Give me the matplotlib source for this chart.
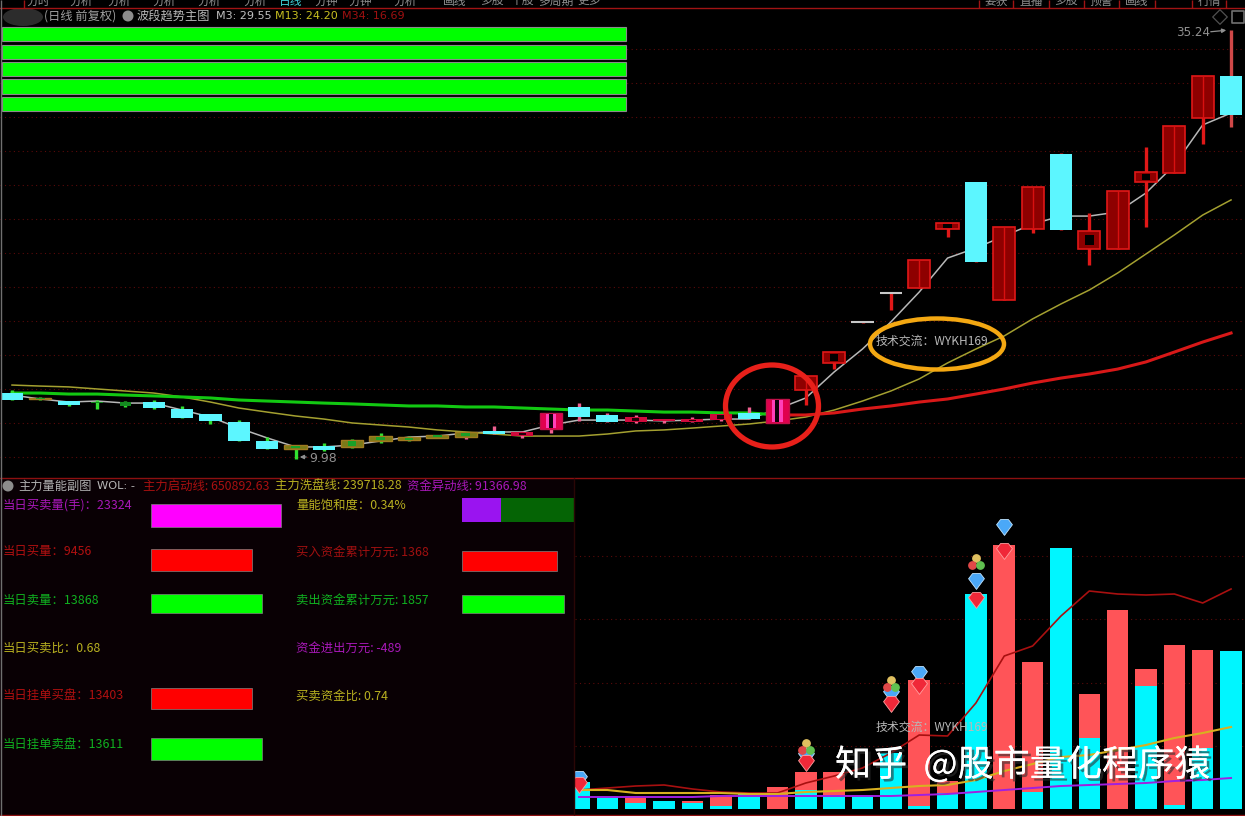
import numpy as np
import matplotlib
matplotlib.use("Agg")
import matplotlib.pyplot as plt
from matplotlib.patches import Ellipse, Circle, Rectangle
import matplotlib.patheffects as pe

plt.rcParams['font.family'] = ['Noto Sans CJK SC', 'DejaVu Sans']

## Candles: body top, body bottom, high, low
body_top = [13.88,13.59,13.41,13.35,13.35,13.35,12.94,12.65,12.18,11.06,10.82,10.76,11.12,11.35,11.29,11.41,
            11.59,11.65,11.59,12.71,13.06,12.59,12.47,12.35,12.35,12.65,12.71,13.53,14.88,16.29,18.06,19.76,
            21.71,23.88,26.29,23.65,26.00,27.94,23.41,25.76,26.88,29.59,32.53,32.53]
body_bot = [13.47,13.53,13.18,13.29,13.12,13.00,12.41,12.24,11.06,10.59,10.59,10.53,10.71,11.06,11.12,11.24,
            11.29,11.47,11.35,11.76,12.47,12.18,12.18,12.24,12.18,12.29,12.35,12.12,14.06,15.65,18.00,19.71,
            20.06,23.53,21.59,19.35,23.53,23.47,22.35,22.35,26.29,26.82,30.06,30.24]
high = [14.06,13.65,13.41,13.47,13.41,13.47,13.12,12.65,12.29,11.29,10.82,10.94,11.18,11.53,11.35,11.41,
        11.59,11.94,11.65,12.71,13.29,12.71,12.59,12.35,12.47,12.65,13.06,13.53,14.88,16.29,18.06,19.76,
        21.71,23.88,26.29,23.65,26.00,28.00,24.47,25.76,28.35,29.59,32.53,35.24]
low = [13.47,13.47,13.12,12.94,13.06,12.94,12.41,12.06,11.06,10.59,9.98,10.47,10.65,10.94,11.06,11.24,
       11.18,11.47,11.24,11.53,12.24,12.18,12.12,12.12,12.18,12.24,12.35,12.12,13.18,15.29,18.00,18.76,
       20.06,23.06,21.59,19.35,23.29,23.47,21.41,22.35,23.65,26.82,28.53,29.53]
kinds = "cocggccccc" + "ocoooooc" + "spccsssscp" + "rhwt" + "rhcrrchrhrrc"
wick_colors = ["#30e030"]*16 + ["#f06090"]*12 + ["#e01818"]*15 + ["#d04848"]

m3 = [13.76,13.53,13.35,13.41,13.29,13.29,12.88,12.47,11.82,11.24,10.71,10.71,10.82,11.06,11.29,11.35,
      11.53,11.59,11.59,12.00,12.29,12.29,12.29,12.24,12.29,12.35,12.35,12.94,13.59,15.12,16.47,18.06,
      19.82,21.82,22.41,23.12,23.82,24.29,24.29,24.53,25.65,27.29,29.65,30.35]
m13 = [14.35,14.29,14.24,14.12,14.00,13.88,13.65,13.35,13.00,12.76,12.53,12.35,12.12,12.00,11.88,11.71,
       11.59,11.47,11.35,11.35,11.35,11.47,11.65,11.71,11.82,11.94,12.06,12.24,12.47,12.88,13.41,14.00,
       14.71,15.65,16.47,17.24,18.24,19.12,19.94,20.94,22.06,23.18,24.35,25.24]
m34 = [13.88,13.88,13.82,13.82,13.76,13.71,13.65,13.59,13.47,13.41,13.35,13.29,13.24,13.18,13.12,13.12,
       13.06,13.06,13.00,12.94,12.88,12.88,12.82,12.76,12.76,12.71,12.71,12.59,12.59,12.71,12.94,13.12,
       13.35,13.53,13.82,14.12,14.47,14.76,15.00,15.29,15.71,16.29,16.88,17.41]
grid_levels = [34.12,32.12,30.12,28.12,26.12,24.12,22.12,20.12,18.12,16.12,14.12,12.12,10.12]

## Volume panel, last 24 days
vol_red = [0,0,13,0,8,14,0,22,37,37,0,0,129,28,0,264,147,0,115,199,140,164,159,0]
vol_cyan = [27,13,6,8,6,3,15,0,19,14,14,56,3,16,215,0,17,261,71,0,123,4,61,158]
line_start = [19,21,23,24,20,17,16,16,26,33,41,56,74,73,106,153,163,193,218,215,214,215,206,220]
line_wash = [19,19,16,16,16,16,15,15,17,18,19,21,23,24,29,38,45,52,54,59,64,71,76,82]
line_fund = [12,12,12,12,12,13,13,13,13,13,13,13,14,15,17,19,21,23,24,25,26,28,29,31]
vol_grid = [253,190,126,63]

orb_bars = [8,11,14]
orb_vals = [61,124,246]
blue_bars = [0,8,11,12,14,15]
blue_vals = [30,53,115,135,228,282]
ruby_bars = [0,8,11,12,14,15]
ruby_vals = [24,46,105,123,209,258]

## Info panel
left_labels = ["当日买卖量(手)：23324","当日买量：9456","当日卖量：13868","当日买卖比：0.68","当日挂单买盘：13403","当日挂单卖盘：13611"]
left_colors = ["#a818b8","#b01010","#10b020","#b8b020","#b01010","#10b020"]
right_labels = ["量能饱和度：0.34%","买入资金累计万元: 1368","卖出资金累计万元: 1857","资金进出万元: -489","买卖资金比: 0.74"]
right_colors = ["#b8b020","#a01010","#10b020","#a818b8","#b8b020"]
left_bar_len = [130,101,111,101,111]
left_bar_col = ["#ff00ff","#ff0000","#00ff00","#ff0000","#00ff00"]
right_bar_len = [95,102]
right_bar_col = ["#ff0000","#00ff00"]
sat_used, sat_rest = 38.5, 74.5
top_bar_len = [624,624,624,624,624]

menu_labels = ["分时","分析","分析","分析","分析","分析","日线","分钟","分钟","分析","画线","多股","个股","多周期","更多"]
tab_labels = ["要获","直播","多股","预警","画线","","行情"]

BG = "#000000"
W, H = 1245, 816
PANEL_X = 575
fig = plt.figure(figsize=(W/100, H/100), dpi=100, facecolor=BG)

## Price panel
ax = fig.add_axes([0, (H-476)/H, 1, 476/H], facecolor=BG)
ax.set_xlim(-12/28.35, (W-12)/28.35)
ax.set_ylim(9, 37)
ax.axis("off")
for lv in grid_levels:
  ax.axhline(lv, color="#5a0a0a", lw=0.8, ls=(0, (1, 3)), zorder=1)

x = np.arange(len(m3))
ax.plot(x, m3, c="#b8b8b8", lw=1.1, zorder=2)
ax.plot(x, m13, c="#a4a030", lw=1.1, zorder=2)
ax.plot(x[:28], m34[:28], c="#12c812", lw=2.2, zorder=2)
ax.plot(x[27:], m34[27:], c="#d81818", lw=2.2, zorder=2)

for i, k in enumerate(kinds):
  mid = 0.5*(body_top[i] + body_bot[i])
  hgt = body_top[i] - body_bot[i]
  ax.vlines(i, low[i], high[i], color=wick_colors[i], lw=2.4, zorder=3)
  if k == "c":
    ax.bar(i, hgt, 0.78, bottom=body_bot[i], color="#5cf6ff", zorder=4)
  elif k == "g":
    ax.bar(i, hgt, 0.4, bottom=body_bot[i], color="#148a20", zorder=4)
  elif k == "o":
    ax.bar(i, hgt, 0.78, bottom=body_bot[i], color="#7a7a18", ec="#a07a20", lw=1, zorder=4)
    ax.bar(i, hgt*0.7, 0.3, bottom=mid-hgt*0.35, color="#18a028", zorder=5)
  elif k == "r":
    ax.bar(i, hgt, 0.78, bottom=body_bot[i], color="#8e0000", ec="#e01818", lw=1.2, zorder=4)
    ax.vlines(i, body_bot[i], body_top[i], color="#d81010", lw=1, zorder=5)
  elif k == "h":
    ax.bar(i, hgt, 0.78, bottom=body_bot[i], color="#8e0000", ec="#e01818", lw=1.2, zorder=4)
    ax.bar(i, hgt*0.6, 0.3, bottom=mid-hgt*0.3, color="#000000", zorder=5)
  elif k == "s":
    ax.bar(i, hgt, 0.78, bottom=body_bot[i], color="#d00a3c", zorder=4)
    ax.bar(i, hgt*0.5, 0.26, bottom=mid-hgt*0.25, color="#200008", zorder=5)
  elif k == "p":
    ax.bar(i, hgt, 0.78, bottom=body_bot[i], color="#e0004e", ec="#c01048", lw=1, zorder=4)
    ax.bar(i, hgt*0.92, 0.36, bottom=mid-hgt*0.46, color="#ff40b8", zorder=5)
    ax.bar(i, hgt*0.92, 0.14, bottom=mid-hgt*0.46, color="#100008", zorder=6)
  else:
    ax.hlines(body_top[i], i-0.39, i+0.39, color="#c8c8c8", lw=1.5, zorder=5)

## Volume panel, starts where the info block ends so the first bar gets cut
ax2 = fig.add_axes([PANEL_X/W, 0, 1-PANEL_X/W, 338/H], facecolor=BG)
ax2.set_xlim((PANEL_X-12)/28.35, (W-12)/28.35)
ax2.set_ylim(-7, 331)
ax2.axis("off")
vx = np.arange(20, 44)
for lv in vol_grid:
  ax2.axhline(lv, color="#5a0a0a", lw=0.8, ls=(0, (1, 3)), zorder=1)
for i, xx in enumerate(vx):
  # the taller part stays behind
  if vol_red[i] >= vol_cyan[i]:
    ax2.bar(xx, vol_red[i], 0.76, color="#ff5458", zorder=2)
    ax2.bar(xx, vol_cyan[i], 0.76, color="#00f6ff", zorder=3)
  else:
    ax2.bar(xx, vol_cyan[i], 0.76, color="#00f6ff", zorder=2)
    ax2.bar(xx, vol_red[i], 0.76, color="#ff5458", zorder=3)
ax2.plot(vx, line_start, c="#a81010", lw=1.2, zorder=4)
ax2.plot(vx, line_wash, c="#d8b020", lw=1.5, zorder=4)
ax2.plot(vx, line_fund, c="#a020e0", lw=1.4, zorder=4)

gem = [(-1,0.35),(-0.5,1),(0.5,1),(1,0.35),(0,-1),(-1,0.35)]
ax2.scatter(vx[blue_bars], blue_vals, marker=gem, s=130, c="#4aa8f8", ec="#c0e4ff", lw=0.6, zorder=6, clip_on=False)
ax2.scatter(vx[ruby_bars], ruby_vals, marker=gem, s=130, c="#f02838", ec="#ffa0a0", lw=0.6, zorder=6, clip_on=False)
ob = vx[orb_bars]
ax2.scatter(ob, np.array(orb_vals)+5, s=28, c="#e0c060", zorder=6)
ax2.scatter(ob-0.14, np.array(orb_vals)-2, s=28, c="#e04848", zorder=6)
ax2.scatter(ob+0.14, np.array(orb_vals)-2, s=28, c="#60c050", zorder=6)

## Overlay in picture coordinates, for text and panel furniture
ov = fig.add_axes([0, 0, 1, 1], facecolor="none", zorder=10)
ov.set_xlim(0, W)
ov.set_ylim(H, 0)
ov.axis("off")

ov.add_patch(Rectangle((0, 478), PANEL_X-1, 337, color="#090004", lw=0, zorder=0))
ov.axhline(8, color="#a01414", lw=1)
ov.axhline(478, color="#8c1010", lw=1)
ov.axhline(815, color="#8c1010", lw=1)
ov.vlines(574, 478, 815, color="#2a0606", lw=1)
ov.vlines(0.5, 0, H, color="#707070", lw=1)
ov.vlines(24, 0, 8, color="#a01414", lw=1)

menu_x = [38,81,119,164,209,255,291,326,360,405,455,492,522,556,589]
for j, lb in enumerate(menu_labels):
  ov.text(menu_x[j], 1, lb, color="#3fd0d8" if lb == "日线" else "#909090", fontsize=8.5, ha="center", va="center")
for sx in [979,1013,1049,1084,1119,1155,1192,1226]:
  ov.vlines(sx, 0, 8, color="#a01414", lw=1)
tab_x = [996,1031,1066,1101,1137,1173,1209]
for j, lb in enumerate(tab_labels):
  ov.text(tab_x[j], 1, lb, color="#909090", fontsize=8.5, ha="center", va="center")

## Green bars top left
top_y = [34,52,69,86.5,104]
ov.barh(top_y, top_bar_len, 14.5, left=2, color="#00ff00", ec="#8a8a8a", lw=0.8)

# header of main chart
ov.add_patch(Ellipse((23, 17), 40, 18, color="#2c2c2c", lw=0))
ov.text(44, 16, "(日线 前复权)", color="#a0a0a0", fontsize=8.8, va="center")
ov.add_patch(Circle((128, 16), 5.5, color="#8c8c8c", lw=0))
ov.text(137, 16, "波段趋势主图", color="#b8b8b8", fontsize=8.8, va="center")
ov.text(216, 16, "M3: 29.55", color="#c0c0c0", fontsize=8, va="center", family="DejaVu Sans")
ov.text(275, 16, "M13: 24.20", color="#c8c020", fontsize=8, va="center", family="DejaVu Sans")
ov.text(342, 16, "M34: 16.69", color="#a01010", fontsize=8, va="center", family="DejaVu Sans")

ov.scatter([1220], [17], marker="D", s=55, facecolor="none", edgecolor="#505050", lw=0.9)
ov.scatter([1238], [17], marker="s", s=70, facecolor="none", edgecolor="#707070", lw=1.2)

ov.text(1176, 33, "35.24", color="#909090", fontsize=8.6, va="center", family="DejaVu Sans")
ov.annotate("", xy=(1229, 30), xytext=(1208, 32), arrowprops=dict(arrowstyle="-|>", color="#909090", lw=0.9, mutation_scale=6))
ov.text(309, 458, "9.98", color="#909090", fontsize=9, va="center", family="DejaVu Sans")
ov.annotate("", xy=(297, 457), xytext=(309, 457), arrowprops=dict(arrowstyle="-|>", color="#909090", lw=0.9, mutation_scale=6))

ov.add_patch(Ellipse((772, 406), 93, 82, fc="none", ec="#e8201a", lw=3.8))
ov.add_patch(Ellipse((937, 344), 134, 51, fc="none", ec="#f4a812", lw=3.2))
ov.text(876, 341, "技术交流：WYKH169", color="#b8b8b8", fontsize=8.6, va="center")
ov.text(876, 727, "技术交流：WYKH169", color="#b8b8b8", fontsize=8.6, va="center")

## Sub chart header
ov.add_patch(Circle((8, 486), 5.5, color="#8c8c8c", lw=0))
ov.text(18, 486, "主力量能副图", color="#b0b0b0", fontsize=8.8, va="center")
ov.text(97, 486, "WOL: -", color="#b8b8b8", fontsize=8.2, va="center", family="DejaVu Sans")
ov.text(143, 486, "主力启动线: 650892.63", color="#a81010", fontsize=8.9, va="center")
ov.text(275, 486, "主力洗盘线: 239718.28", color="#b8b020", fontsize=8.9, va="center")
ov.text(407, 486, "资金异动线: 91366.98", color="#a818b8", fontsize=8.9, va="center")

row_y = [505,552,600,648,696,744]
for j, lb in enumerate(left_labels):
  ov.text(3, row_y[j], lb, color=left_colors[j], fontsize=8.9, va="center")
for j, lb in enumerate(right_labels):
  ov.text(296, row_y[j], lb, color=right_colors[j], fontsize=8.9, va="center")

left_bar_y = [515.5,560,603.5,698.5,749]
left_bar_h = [23,22,19,21,22]
ov.barh(left_bar_y, left_bar_len, left_bar_h, left=151, color=left_bar_col, ec="#808080", lw=0.5)
ov.barh([561,604], right_bar_len, [20,18], left=462, color=right_bar_col, ec="#808080", lw=0.5)
ov.barh(510, sat_used, 24, left=462, color="#9a14f0")
ov.barh(510, sat_rest, 24, left=462+sat_used, color="#056405")

## Watermark
wm = ov.text(835, 765, "知乎  @股市量化程序猿", color="white", fontsize=26, va="center", fontweight="medium")
wm.set_path_effects([pe.withSimplePatchShadow(offset=(2, -2), shadow_rgbFace="#303030", alpha=0.6), pe.Normal()])

plt.savefig("out.png", dpi=100, facecolor=BG)
